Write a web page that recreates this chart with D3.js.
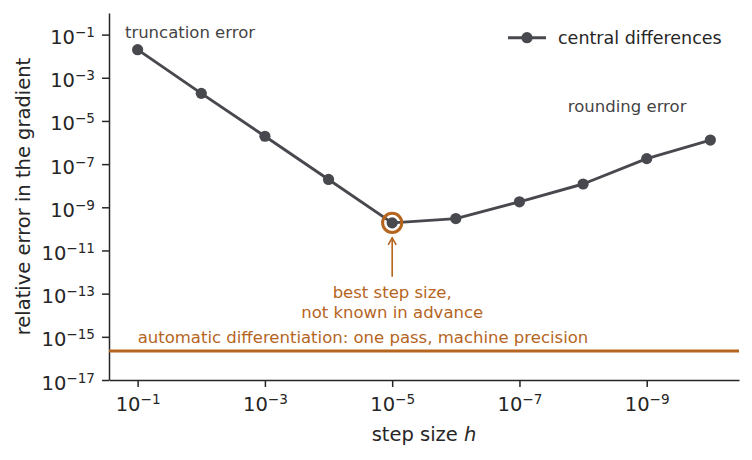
<!DOCTYPE html>
<html>
<head>
<meta charset="utf-8">
<script src="https://cdn.jsdelivr.net/npm/d3@7"></script>
<style>
  body { margin: 0; background: #fff; }
  svg { font-family: "DejaVu Sans", sans-serif; }
</style>
</head>
<body>
<svg width="752" height="460"></svg>
<script>
// данные
const stepSizes = [1e-1, 1e-2, 1e-3, 1e-4, 1e-5, 1e-6, 1e-7, 1e-8, 1e-9, 1e-10];
const centralErrors = [2.0e-2, 1.9e-4, 1.95e-6, 1.95e-8, 1.9e-10, 3.0e-10, 1.8e-9, 1.2e-8, 1.8e-7, 1.3e-6];
const adError = 2.2e-16;
const bestIndex = 4;
const xTickExps = [-1, -3, -5, -7, -9];
const yTickExps = [-17, -15, -13, -11, -9, -7, -5, -3, -1];

const dark = "#48484f";
const orange = "#b5651e";
const ink = "#262626";
const noteSize = 16.5;

let svg = d3.select("svg");

attr_area = {
    left: 109,
    right: 739,
    top: 13,
    bottom: 380
};

let scX = d3.scaleLog()
    .domain([Math.pow(10, -0.55), Math.pow(10, -10.45)])
    .range([attr_area.left, attr_area.right]);

let scY = d3.scaleLog()
    .domain([1e-17, 1e0])
    .range([attr_area.bottom, attr_area.top]);

// подпись вида 10^n
function powerLabel(text, e) {
    text.text(null);
    text.append("tspan").text("10");
    text.append("tspan")
        .attr("font-size", 13.6)
        .attr("dy", -7)
        .text("\u2212" + Math.abs(e));
}

// ось X
let gx = svg.append("g")
    .attr("transform", `translate(0, ${attr_area.bottom})`)
    .call(d3.axisBottom(scX)
        .tickValues(xTickExps.map(e => Math.pow(10, e)))
        .tickSize(7)
        .tickSizeOuter(0)
        .tickFormat(() => ""));

gx.selectAll(".tick text")
    .attr("y", 31)
    .attr("dy", null)
    .each(function(d) { powerLabel(d3.select(this), Math.round(Math.log10(d))); });

// ось Y
let gy = svg.append("g")
    .attr("transform", `translate(${attr_area.left}, 0)`)
    .call(d3.axisLeft(scY)
        .tickValues(yTickExps.map(e => Math.pow(10, e)))
        .tickSize(7)
        .tickSizeOuter(0)
        .tickFormat(() => ""));

gy.selectAll(".tick text")
    .attr("x", -14)
    .attr("y", 9)
    .attr("dy", null)
    .each(function(d) { powerLabel(d3.select(this), Math.round(Math.log10(d))); });

svg.selectAll("g")
    .attr("font-family", "DejaVu Sans")
    .attr("font-size", 19.5)
    .style("color", ink);
svg.selectAll(".domain, .tick line").style("stroke-width", 1.5);

// подписи осей
let xLabel = svg.append("text")
    .attr("x", (attr_area.left + attr_area.right) / 2)
    .attr("y", 441)
    .attr("text-anchor", "middle")
    .attr("font-size", 19.5)
    .style("fill", ink);
xLabel.append("tspan").text("step size ");
xLabel.append("tspan").attr("font-style", "italic").text("h");

svg.append("text")
    .attr("transform", `translate(30, ${(attr_area.top + attr_area.bottom) / 2}) rotate(-90)`)
    .attr("text-anchor", "middle")
    .attr("font-size", 19.5)
    .style("fill", ink)
    .text("relative error in the gradient");

// автоматическое дифференцирование
svg.append("line")
    .attr("x1", attr_area.left)
    .attr("x2", attr_area.right)
    .attr("y1", scY(adError))
    .attr("y2", scY(adError))
    .style("stroke", orange)
    .style("stroke-width", 3.2);

svg.append("text")
    .attr("x", scX(1e-1))
    .attr("y", scY(adError) - 8.5)
    .attr("font-size", noteSize)
    .style("fill", orange)
    .text("automatic differentiation: one pass, machine precision");

// центральные разности
const points = stepSizes.map((h, i) => ({h: h, e: centralErrors[i]}));

svg.append("path")
    .datum(points)
    .attr("d", d3.line().x(d => scX(d.h)).y(d => scY(d.e)))
    .style("fill", "none")
    .style("stroke", dark)
    .style("stroke-width", 2.9)
    .style("stroke-linejoin", "round");

svg.selectAll(".dot")
    .data(points)
    .enter()
    .append("circle")
    .attr("r", 5.6)
    .attr("cx", d => scX(d.h))
    .attr("cy", d => scY(d.e))
    .style("fill", dark);

// лучший шаг
const bx = scX(stepSizes[bestIndex]);
const by = scY(centralErrors[bestIndex]);

svg.append("circle")
    .attr("cx", bx)
    .attr("cy", by)
    .attr("r", 9.6)
    .style("fill", "none")
    .style("stroke", orange)
    .style("stroke-width", 3);

svg.append("line")
    .attr("x1", bx).attr("x2", bx)
    .attr("y1", by + 54).attr("y2", by + 15)
    .style("stroke", orange)
    .style("stroke-width", 1.6);

svg.append("path")
    .attr("d", `M${bx - 4},${by + 22} L${bx},${by + 15} L${bx + 4},${by + 22}`)
    .style("fill", "none")
    .style("stroke", orange)
    .style("stroke-width", 1.6);

let best = svg.append("text")
    .attr("text-anchor", "middle")
    .attr("font-size", noteSize)
    .style("fill", orange);
best.append("tspan").attr("x", bx).attr("y", by + 75).text("best step size,");
best.append("tspan").attr("x", bx).attr("y", by + 95).text("not known in advance");

// подписи областей
svg.append("text")
    .attr("x", scX(Math.pow(10, -0.8)))
    .attr("y", 37.5)
    .attr("font-size", noteSize)
    .style("fill", "#444")
    .text("truncation error");

svg.append("text")
    .attr("x", scX(Math.pow(10, -7.76)))
    .attr("y", 111.5)
    .attr("font-size", noteSize)
    .style("fill", "#444")
    .text("rounding error");

// легенда
let legend = svg.append("g").attr("transform", "translate(508, 37.7)");
legend.append("line")
    .attr("x1", 0).attr("x2", 38)
    .style("stroke", dark)
    .style("stroke-width", 2.9);
legend.append("circle")
    .attr("cx", 19)
    .attr("r", 5.6)
    .style("fill", dark);
legend.append("text")
    .attr("x", 50)
    .attr("y", 6.3)
    .attr("font-size", 17.5)
    .style("fill", ink)
    .text("central differences");
</script>
</body>
</html>
